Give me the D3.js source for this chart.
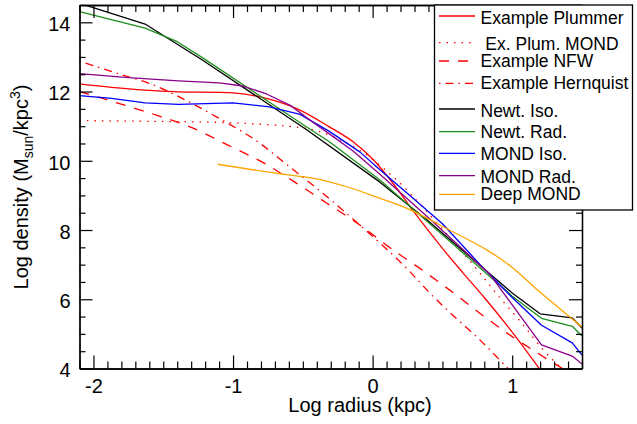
<!DOCTYPE html>
<html>
<head>
<meta charset="utf-8">
<script src="https://cdn.jsdelivr.net/npm/d3@7"></script>
<style>
  html, body { margin: 0; padding: 0; background: #fff; }
  svg { display: block; font-family: "Liberation Sans", Arial, Helvetica, sans-serif; }
</style>
</head>
<body>
<svg id="chart" width="637" height="424"></svg>
<script>
// ---- data (log radius [kpc], log density [Msun/kpc^3]) ----
const plummer = [[-2.1,12.22],[-1.87,12.12],[-1.63,12.04],[-1.39,11.99],[-1.0,11.96],[-0.79,11.83],[-0.54,11.5],[-0.31,10.98],[-0.14,10.55],[0.0,10.05],[0.15,9.33],[0.3,8.5],[0.5,7.47],[0.65,6.75],[0.8,6.05],[1.0,5.05],[1.19,4.02],[1.3,3.4]];
const plumMond = [[-2.1,11.16],[-1.6,11.14],[-1.1,11.11],[-0.74,11.04],[-0.52,10.96],[-0.38,10.84],[-0.23,10.6],[-0.06,10.22],[0.11,9.67],[0.21,9.3],[0.35,8.7],[0.58,7.65],[0.75,6.85],[0.89,6.15],[1.06,5.35],[1.23,4.5],[1.34,4.05],[1.4,3.75]];
const nfw = [[-2.1,12.0],[-1.82,11.66],[-1.55,11.32],[-1.29,10.95],[-1.04,10.46],[-0.79,9.96],[-0.58,9.44],[-0.33,8.78],[-0.09,8.14],[0.12,7.5],[0.36,6.83],[0.59,6.15],[0.8,5.5],[1.0,4.92],[1.2,4.4],[1.36,4.0],[1.45,3.8]];
const hernquist = [[-2.1,12.88],[-1.84,12.54],[-1.57,12.19],[-1.32,11.71],[-1.08,11.18],[-0.84,10.6],[-0.63,9.94],[-0.36,9.07],[-0.09,8.14],[0.22,6.99],[0.41,6.18],[0.55,5.63],[0.77,4.82],[0.96,4.04],[1.02,3.8]];
const newtIso = [[-2.1,14.55],[-1.63,13.95],[-1.22,12.91],[-0.47,10.89],[0.05,9.39],[0.39,8.29],[1.0,6.18],[1.2,5.58],[1.43,5.46],[1.5,5.17]];
const newtRad = [[-2.1,14.31],[-1.63,13.83],[-1.4,13.44],[-1.22,12.98],[-0.47,10.97],[-0.31,10.55],[0.05,9.45],[0.39,8.25],[1.0,6.09],[1.21,5.45],[1.43,5.22],[1.5,4.94]];
const mondIso = [[-2.1,11.88],[-1.87,11.8],[-1.63,11.67],[-1.39,11.63],[-1.0,11.67],[-0.74,11.56],[-0.52,11.34],[-0.31,10.85],[-0.09,10.25],[0.05,9.75],[0.3,8.88],[0.5,8.18],[0.77,7.0],[1.0,6.05],[1.21,5.25],[1.43,4.74],[1.5,4.39]];
const mondRad = [[-2.1,12.52],[-1.75,12.4],[-1.39,12.31],[-1.1,12.25],[-0.93,12.16],[-0.76,11.93],[-0.59,11.6],[-0.43,11.12],[-0.29,10.72],[-0.14,10.28],[0.05,9.62],[0.41,8.32],[0.84,6.72],[1.21,4.68],[1.43,4.36],[1.5,4.13]];
const deepMond = [[-1.11,9.9],[-0.66,9.62],[-0.43,9.5],[-0.185,9.25],[0.05,8.92],[0.25,8.62],[0.55,8.0],[0.82,7.42],[1.0,6.92],[1.2,6.2],[1.41,5.5],[1.5,5.2]];

const seriesNames = ["Example Plummer"," Ex. Plum. MOND","Example NFW","Example Hernquist","Newt. Iso.","Newt. Rad.","MOND Iso.","MOND Rad.","Deep MOND"];
const seriesData = [plummer, plumMond, nfw, hernquist, newtIso, newtRad, mondIso, mondRad, deepMond];
const seriesColors = ["#ff0000","#ff0000","#ff0000","#ff0000","#000000","#1a8f1a","#0000ff","#8b008b","#ffa500"];
const seriesDash = [null,"1.5,6","10,9","1.5,5,8,5",null,null,null,null,null];
const seriesSmooth = [true,true,true,true,false,false,false,false,true];

const xTicks = [-2,-1,0,1];
const yTicks = [4,6,8,10,12,14];
const xLabel = "Log radius (kpc)";

// ---- layout ----
const svg = d3.select("#chart");
const L = 79.5, R = 582, T = 5, B = 368.5;
const x = d3.scaleLinear().domain([-2.1, 1.5]).range([L, R]);
const y = d3.scaleLinear().domain([4, 14.5]).range([B, T]);

svg.append("defs").append("clipPath").attr("id","clip")
  .append("rect").attr("x",L).attr("y",T).attr("width",R-L).attr("height",B-T);

// curves
const lineSmooth = d3.line().x(d=>x(d[0])).y(d=>y(d[1])).curve(d3.curveCatmullRom.alpha(0.5));
const lineLin = d3.line().x(d=>x(d[0])).y(d=>y(d[1])).curve(d3.curveLinear);
const g = svg.append("g").attr("clip-path","url(#clip)");
seriesData.forEach((d,i)=>{
  g.append("path").datum(d).attr("d", seriesSmooth[i] ? lineSmooth : lineLin)
    .attr("fill","none").attr("stroke",seriesColors[i]).attr("stroke-width",1.3)
    .attr("stroke-linejoin","round")
    .attr("stroke-dasharray",seriesDash[i]);
});

// axes
const xMinor = d3.range(-21,16).map(v=>v/10).filter(v=>!xTicks.includes(v));
const yMinor = d3.range(8,30).map(v=>v/2).filter(v=>!yTicks.includes(v));
function styleAxis(sel){
  sel.selectAll("path.domain").attr("stroke","#000").attr("stroke-width",1.3);
  sel.selectAll(".tick line").attr("stroke","#000").attr("stroke-width",1.2);
  sel.selectAll("text").attr("fill","#000").attr("font-size","20px")
    .attr("font-family","'Liberation Sans', Arial, sans-serif");
}
// bottom
svg.append("g").attr("transform",`translate(0,${B})`)
  .call(d3.axisBottom(x).tickValues(xMinor).tickSizeInner(-7).tickSizeOuter(0).tickFormat(""))
  .call(styleAxis);
svg.append("g").attr("transform",`translate(0,${B})`)
  .call(d3.axisBottom(x).tickValues(xTicks).tickSizeInner(-13).tickSizeOuter(0).tickPadding(10).tickFormat(d=>String(d)))
  .call(styleAxis);
// top
svg.append("g").attr("transform",`translate(0,${T})`)
  .call(d3.axisTop(x).tickValues(xMinor).tickSizeInner(-7).tickSizeOuter(0).tickFormat(""))
  .call(styleAxis);
svg.append("g").attr("transform",`translate(0,${T})`)
  .call(d3.axisTop(x).tickValues(xTicks).tickSizeInner(-13).tickSizeOuter(0).tickFormat(""))
  .call(styleAxis);
// left
svg.append("g").attr("transform",`translate(${L},0)`)
  .call(d3.axisLeft(y).tickValues(yMinor).tickSizeInner(-6).tickSizeOuter(0).tickFormat(""))
  .call(styleAxis);
const yl = svg.append("g").attr("transform",`translate(${L},0)`)
  .call(d3.axisLeft(y).tickValues(yTicks).tickSizeInner(-13).tickSizeOuter(0).tickPadding(9).tickFormat(d=>String(d)))
  .call(styleAxis);
yl.selectAll("text").attr("dy","0.42em");
// right
svg.append("g").attr("transform",`translate(${R},0)`)
  .call(d3.axisRight(y).tickValues(yMinor).tickSizeInner(-6).tickSizeOuter(0).tickFormat(""))
  .call(styleAxis);
svg.append("g").attr("transform",`translate(${R},0)`)
  .call(d3.axisRight(y).tickValues(yTicks).tickSizeInner(-13).tickSizeOuter(0).tickFormat(""))
  .call(styleAxis);

// axis titles
svg.append("text").attr("x",360).attr("y",412).attr("text-anchor","middle")
  .attr("font-size","20px").text(xLabel);
const yt = svg.append("text").attr("transform","translate(28,187) rotate(-90)")
  .attr("text-anchor","middle").attr("font-size","20px");
yt.append("tspan").text("Log density (M");
yt.append("tspan").attr("font-size","14px").attr("dy","5").text("sun");
yt.append("tspan").attr("dy","-5").text("/kpc");
yt.append("tspan").attr("font-size","14px").attr("dy","-8").text("3");
yt.append("tspan").attr("dy","8").text(")");

// legend
const lg = svg.append("g");
lg.append("rect").attr("x",434.5).attr("y",5).attr("width",198).attr("height",205)
  .attr("fill","#fff").attr("stroke","#000").attr("stroke-width",1.3);
const lineYs = [16,42.7,61,83.3,109,131.7,153.3,175.7,194.3];
const textYs = [24,50,67,89,116.5,138,160,182.5,199.5];
seriesNames.forEach((n,i)=>{
  lg.append("line").attr("x1",439).attr("x2",475).attr("y1",lineYs[i]).attr("y2",lineYs[i])
    .attr("stroke",seriesColors[i]).attr("stroke-width",1.3).attr("stroke-dasharray",seriesDash[i]);
  lg.append("text").attr("x",480.5).attr("y",textYs[i]).attr("font-size","17.5px")
    .style("white-space","pre").text(n);
});
</script>
</body>
</html>
